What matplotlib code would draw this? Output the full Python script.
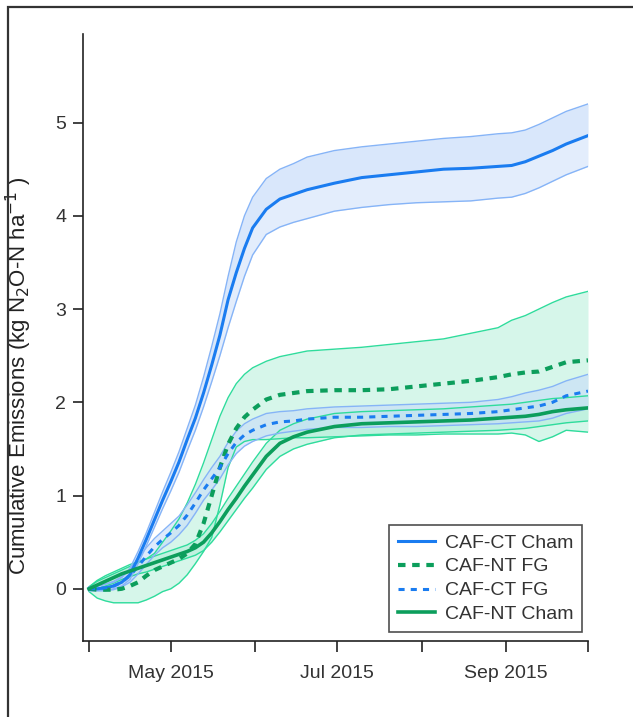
import matplotlib
matplotlib.use('Agg')
import matplotlib.pyplot as plt
import matplotlib.dates as mdates
from matplotlib.patches import Rectangle
import numpy as np

plt.rcParams['font.family'] = ['Liberation Sans', 'DejaVu Sans']

# days since 2015-04-01
days = [0, 3, 6, 9, 12, 15, 18, 21, 24, 27, 30, 33, 36, 39, 42, 45, 48, 51, 54, 57,
        60, 65, 70, 75, 80, 90, 100, 110, 120, 130, 140, 150, 155, 160, 165, 170, 175, 183]

ct_cham = [0.0, 0.0, 0.01, 0.03, 0.07, 0.15, 0.33, 0.53, 0.74, 0.95, 1.15, 1.36, 1.6, 1.83, 2.1, 2.4, 2.72, 3.1, 3.39, 3.65,
           3.87, 4.07, 4.18, 4.23, 4.28, 4.35, 4.41, 4.44, 4.47, 4.5, 4.51, 4.53, 4.54, 4.58, 4.64, 4.7, 4.77, 4.86]
ct_cham_hi = [0.02, 0.03, 0.05, 0.07, 0.12, 0.22, 0.4, 0.6, 0.82, 1.04, 1.25, 1.47, 1.72, 1.97, 2.27, 2.6, 2.95, 3.35, 3.72, 4.0,
              4.2, 4.4, 4.5, 4.56, 4.63, 4.7, 4.74, 4.77, 4.8, 4.83, 4.85, 4.88, 4.89, 4.92, 4.98, 5.05, 5.12, 5.2]
ct_cham_lo = [-0.02, -0.02, -0.02, 0.0, 0.03, 0.1, 0.27, 0.46, 0.66, 0.86, 1.05, 1.25, 1.48, 1.7, 1.95, 2.22, 2.5, 2.8, 3.08, 3.35,
              3.58, 3.8, 3.88, 3.93, 3.97, 4.05, 4.09, 4.12, 4.14, 4.15, 4.16, 4.19, 4.2, 4.24, 4.3, 4.37, 4.44, 4.53]

nt_fg = [0.0, -0.01, -0.01, -0.01, 0.0, 0.03, 0.07, 0.14, 0.2, 0.24, 0.28, 0.32, 0.38, 0.48, 0.7, 1.0, 1.3, 1.55, 1.72, 1.84,
         1.92, 2.03, 2.08, 2.1, 2.12, 2.13, 2.13, 2.14, 2.17, 2.2, 2.23, 2.27, 2.3, 2.32, 2.33, 2.38, 2.43, 2.45]
nt_fg_hi = [0.02, 0.08, 0.12, 0.16, 0.2, 0.24, 0.28, 0.32, 0.38, 0.5, 0.62, 0.75, 0.92, 1.12, 1.35, 1.6, 1.85, 2.05, 2.2, 2.3,
            2.37, 2.44, 2.49, 2.52, 2.55, 2.57, 2.59, 2.62, 2.65, 2.68, 2.74, 2.8, 2.88, 2.93, 3.0, 3.07, 3.13, 3.19]
nt_fg_lo = [-0.03, -0.1, -0.13, -0.15, -0.15, -0.15, -0.15, -0.12, -0.08, -0.03, 0.0, 0.06, 0.15, 0.27, 0.4, 0.55, 0.9, 1.3, 1.52, 1.58,
            1.6, 1.6, 1.61, 1.62, 1.62, 1.63, 1.64, 1.65, 1.65, 1.66, 1.66, 1.66, 1.67, 1.65, 1.58, 1.63, 1.7, 1.68]

ct_fg = [0.0, 0.0, 0.01, 0.03, 0.07, 0.14, 0.24, 0.35, 0.45, 0.53, 0.6, 0.68, 0.79, 0.92, 1.06, 1.18, 1.3, 1.45, 1.57, 1.65,
         1.7, 1.76, 1.79, 1.8, 1.82, 1.84, 1.84, 1.85, 1.86, 1.87, 1.88, 1.9, 1.92, 1.94, 1.96, 2.0, 2.07, 2.12]
ct_fg_hi = [0.02, 0.03, 0.05, 0.08, 0.13, 0.21, 0.32, 0.44, 0.54, 0.62, 0.7, 0.78, 0.9, 1.03, 1.17, 1.3, 1.42, 1.57, 1.69, 1.77,
            1.82, 1.88, 1.9, 1.91, 1.93, 1.95, 1.96, 1.97, 1.98, 1.99, 2.0, 2.03, 2.06, 2.1, 2.13, 2.17, 2.23, 2.3]
ct_fg_lo = [-0.02, -0.02, -0.02, -0.01, 0.02, 0.07, 0.16, 0.26, 0.36, 0.44, 0.5, 0.58, 0.68, 0.81, 0.95, 1.06, 1.18, 1.33, 1.45, 1.53,
            1.58, 1.64, 1.67, 1.69, 1.71, 1.73, 1.73, 1.74, 1.74, 1.75, 1.76, 1.77, 1.78, 1.79, 1.8, 1.83, 1.88, 1.93]

nt_cham = [0.0, 0.04, 0.08, 0.12, 0.16, 0.19, 0.22, 0.25, 0.28, 0.31, 0.34, 0.37, 0.4, 0.44, 0.5, 0.6, 0.72, 0.85, 0.97, 1.1,
           1.22, 1.42, 1.56, 1.63, 1.68, 1.74, 1.77, 1.78, 1.79, 1.8, 1.81, 1.83, 1.84, 1.85, 1.87, 1.9, 1.92, 1.94]
nt_cham_hi = [0.02, 0.09, 0.14, 0.18, 0.22, 0.26, 0.29, 0.32, 0.35, 0.38, 0.41, 0.44, 0.47, 0.52, 0.59, 0.7, 0.83, 0.97, 1.1, 1.23,
              1.36, 1.56, 1.7, 1.77, 1.82, 1.88, 1.9, 1.91, 1.92, 1.93, 1.95, 1.97, 1.98, 2.0, 2.02, 2.04, 2.05, 2.07]
nt_cham_lo = [-0.02, 0.0, 0.03, 0.06, 0.1, 0.13, 0.16, 0.18, 0.21, 0.24, 0.27, 0.3, 0.33, 0.36, 0.41, 0.5, 0.61, 0.73, 0.85, 0.97,
              1.08, 1.28, 1.42, 1.5, 1.55, 1.62, 1.65, 1.66, 1.67, 1.68, 1.69, 1.7, 1.71, 1.72, 1.74, 1.76, 1.78, 1.8]

month_ticks = ['2015-04-01', '2015-05-01', '2015-06-01', '2015-07-01', '2015-08-01', '2015-09-01', '2015-10-01']
month_labels = ['', 'May 2015', '', 'Jul 2015', '', 'Sep 2015', '']

start = np.datetime64('2015-04-01')
dates = start + np.array(days, dtype='timedelta64[D]')

BLUE = '#1a7cf0'
BLUE_EDGE = '#86b4f7'
BLUE_FILL = '#c8dcfa'
GREEN = '#0c9e5c'
GREEN_EDGE = '#2fdc9c'
GREEN_FILL = '#aeeed6'

fig = plt.figure(figsize=(6.33, 7.17), dpi=100)
fig.add_artist(Rectangle((8 / 633, -0.05), 1.1, 1 - 6.5 / 717 + 0.05, transform=fig.transFigure,
                         fill=False, edgecolor='#333333', linewidth=1.6))
ax = fig.add_axes([83 / 633, 1 - 641 / 717, 505 / 633, 607 / 717])

# bands
ax.fill_between(dates, nt_fg_lo, nt_fg_hi, color=GREEN_FILL, alpha=0.5, lw=0)
ax.fill_between(dates, nt_cham_lo, nt_cham_hi, color=GREEN_FILL, alpha=0.55, lw=0)
ax.fill_between(dates, ct_fg_lo, ct_fg_hi, color=BLUE_FILL, alpha=0.6, lw=0)
ax.fill_between(dates, ct_cham_lo, ct_cham_hi, color=BLUE_FILL, alpha=0.5, lw=0)
ax.fill_between(dates, ct_cham, ct_cham_hi, color=BLUE_FILL, alpha=0.35, lw=0)

for lo, hi, c in [(nt_fg_lo, nt_fg_hi, GREEN_EDGE), (nt_cham_lo, nt_cham_hi, GREEN_EDGE),
                  (ct_fg_lo, ct_fg_hi, BLUE_EDGE), (ct_cham_lo, ct_cham_hi, BLUE_EDGE)]:
    ax.plot(dates, lo, color=c, lw=1.0)
    ax.plot(dates, hi, color=c, lw=1.0)

l1, = ax.plot(dates, ct_cham, color=BLUE, lw=2.2, label='CAF-CT Cham')
l2, = ax.plot(dates, nt_fg, color=GREEN, lw=3.0, dashes=(1.8, 1.6), label='CAF-NT FG')
l3, = ax.plot(dates, ct_fg, color=BLUE, lw=2.2, dashes=(2.0, 2.0), label='CAF-CT FG')
l4, = ax.plot(dates, nt_cham, color=GREEN, lw=2.6, label='CAF-NT Cham')

ax.set_xlim(np.datetime64('2015-03-29T19:00'), np.datetime64('2015-10-01'))
ax.set_ylim(-0.56, 5.95)

tick_dates = [mdates.date2num(np.datetime64(d)) for d in month_ticks]
ax.set_xticks(tick_dates)
ax.set_xticklabels(month_labels)
ax.set_yticks([0, 1, 2, 3, 4, 5])

for s in ['top', 'right']:
    ax.spines[s].set_visible(False)
for s in ['left', 'bottom']:
    ax.spines[s].set_linewidth(1.2)
    ax.spines[s].set_color('#222222')

ax.tick_params(axis='x', direction='out', length=8, width=1.2, pad=9, labelsize=14,
               labelcolor='#333333', color='#222222')
ax.tick_params(axis='y', direction='out', length=7, width=1.2, pad=5, labelsize=14,
               labelcolor='#333333', color='#222222')

ax.set_ylabel(r'Cumulative Emissions (kg N$_2$O-N ha$^{-1}$ )', fontsize=16, color='#222222')
ax.yaxis.set_label_coords(-0.097, 0.437)

leg = ax.legend(handles=[l1, l2, l3, l4], loc='lower right', bbox_to_anchor=(0.988, 0.015),
                fontsize=14, frameon=True, fancybox=False, edgecolor='#222222',
                handlelength=1.9, handletextpad=0.5, labelspacing=0.32, borderpad=0.45,
                borderaxespad=0)
leg.get_frame().set_linewidth(1.2)
for t in leg.get_texts():
    t.set_color('#333333')

fig.savefig('out.png', dpi=100)
